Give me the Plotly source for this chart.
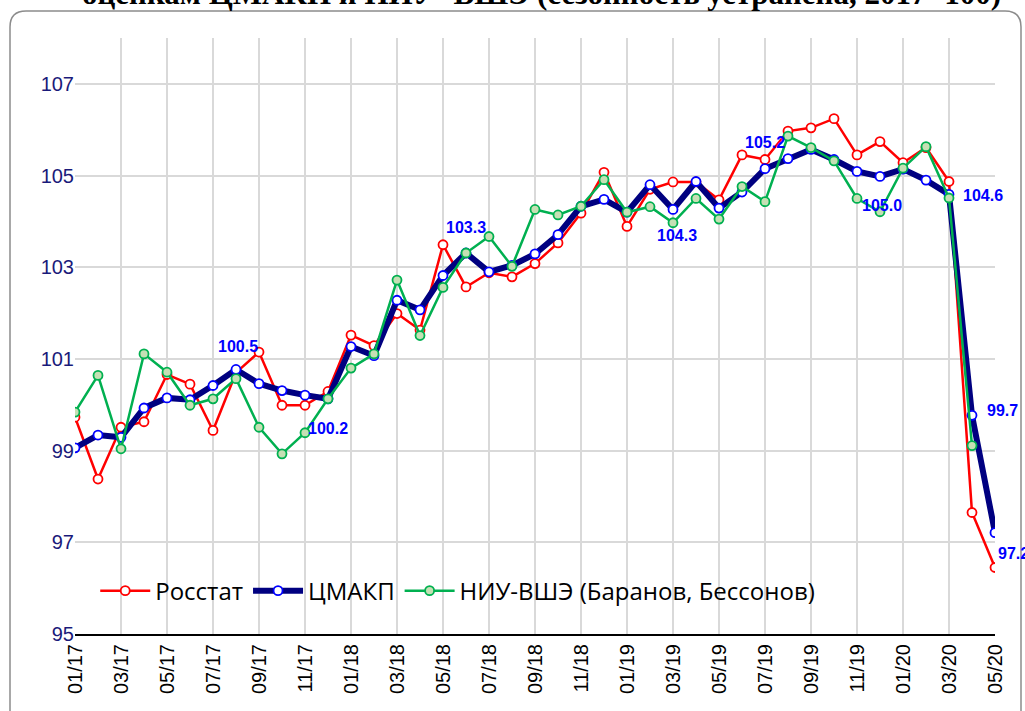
import plotly.graph_objects as go

tick_labels = ["01/17", "03/17", "05/17", "07/17", "09/17", "11/17", "01/18", "03/18",
               "05/18", "07/18", "09/18", "11/18", "01/19", "03/19", "05/19", "07/19",
               "09/19", "11/19", "01/20", "03/20", "05/20"]
months = list(range(41))

rosstat = [99.73, 98.38, 99.51, 99.63, 100.66, 100.45, 99.44, 100.70, 101.15, 99.99,
           99.99, 100.29, 101.52, 101.29, 101.99, 101.63, 103.49, 102.57, 102.88, 102.79,
           103.08, 103.53, 104.18, 105.07, 103.89, 104.70, 104.86, 104.86, 104.47, 105.45,
           105.35, 105.97, 106.04, 106.24, 105.45, 105.74, 105.28, 105.61, 104.87, 97.65,
           96.45]
cmakp = [99.06, 99.34, 99.29, 99.93, 100.15, 100.11, 100.42, 100.77, 100.46, 100.31,
         100.21, 100.13, 101.27, 101.07, 102.28, 102.07, 102.82, 103.31, 102.90, 103.04,
         103.29, 103.71, 104.33, 104.48, 104.20, 104.80, 104.26, 104.87, 104.29, 104.64,
         105.15, 105.37, 105.57, 105.35, 105.09, 104.98, 105.14, 104.90, 104.59, 99.77,
         97.21]
hse = [99.84, 100.64, 99.04, 101.11, 100.71, 99.99, 100.13, 100.57, 99.51, 98.93,
       99.39, 100.13, 100.80, 101.11, 102.72, 101.51, 102.56, 103.31, 103.67, 103.02,
       104.26, 104.14, 104.33, 104.91, 104.20, 104.32, 103.97, 104.50, 104.05, 104.76,
       104.43, 105.86, 105.61, 105.32, 104.50, 104.21, 105.16, 105.63, 104.51, 99.11,
       None]

label_idx = [7, 11, 17, 26, 30, 35, 38, 39, 40]
label_txt = ["100.5", "100.2", "103.3", "104.3", "105.2", "105.0", "104.6", "99.7", "97.2"]
label_shift = [(2, 23), (0, -30), (0, 26), (4, -26), (0, 26), (2, -29), (34, -1), (30, 5), (18, -21)]

title_text = "оценкам ЦМАКП и НИУ- ВШЭ (сезонность устранена, 2017=100)"

fig = go.Figure()
fig.add_trace(go.Scatter(
    x=months, y=rosstat, name="Росстат", mode="lines+markers",
    line=dict(color="#ff0000", width=2.5),
    marker=dict(symbol="circle", size=9, color="white", line=dict(color="#ff0000", width=1.8))))
fig.add_trace(go.Scatter(
    x=months, y=cmakp, name="ЦМАКП", mode="lines+markers",
    line=dict(color="#000080", width=6),
    marker=dict(symbol="circle", size=9, color="white", line=dict(color="#0000ff", width=1.8))))
fig.add_trace(go.Scatter(
    x=months, y=hse, name="НИУ-ВШЭ (Баранов, Бессонов)", mode="lines+markers",
    line=dict(color="#00b050", width=2.5),
    marker=dict(symbol="circle", size=9, color="#c5e0b4", line=dict(color="#00b050", width=1.8))))

L, R, T, B = 75, 30, 38, 77
W, H = 1025, 711
pw, ph = W - L - R, H - T - B

def px(x):
    return (x - L) / pw

def py(y):
    return (H - B - y) / ph

annotations = []
for i, t, (dx, dy) in zip(label_idx, label_txt, label_shift):
    annotations.append(dict(x=months[i], y=cmakp[i], text=t, showarrow=False,
                            xshift=dx, yshift=dy,
                            font=dict(family="Liberation Sans", size=16, color="#0000ff", weight="bold")))
annotations.append(dict(xref="paper", yref="paper", x=px(541), y=py(13), yanchor="bottom",
                        text=title_text, showarrow=False,
                        font=dict(family="Liberation Serif", size=31, color="black", weight="bold")))

# rounded border
l, r, t, b, rad = 10, 1021, 11, 760, 16
path = (f"M {px(l)},{py(b)} L {px(l)},{py(t + rad)} Q {px(l)},{py(t)} {px(l + rad)},{py(t)} "
        f"L {px(r - rad)},{py(t)} Q {px(r)},{py(t)} {px(r)},{py(t + rad)} L {px(r)},{py(b)}")

fig.update_layout(
    width=W, height=H, autosize=False,
    margin=dict(l=L, r=R, t=T, b=B),
    paper_bgcolor="white", plot_bgcolor="white",
    showlegend=True,
    legend=dict(orientation="h", x=0.022, y=0.072, xanchor="left", yanchor="middle",
                bgcolor="rgba(0,0,0,0)", font=dict(family="Open Sans", size=24, color="black"),
                itemwidth=50),
    xaxis=dict(range=[0, 40], tickvals=months[::2], ticktext=tick_labels, tickangle=-90,
               showgrid=True, gridcolor="#d9d9d9", gridwidth=1.5,
               showline=True, linecolor="black", linewidth=2, zeroline=False,
               tickfont=dict(family="Liberation Sans", size=20, color="black"), ticks=""),
    yaxis=dict(range=[95, 108], tickvals=[95, 97, 99, 101, 103, 105, 107],
               showgrid=True, gridcolor="#d9d9d9", gridwidth=1.5, zeroline=False,
               showline=False, ticks="",
               tickfont=dict(family="Liberation Sans", size=20, color="#1a1a7a")),
    annotations=annotations,
    shapes=[dict(type="path", xref="paper", yref="paper", path=path,
                 line=dict(color="#8c8c8c", width=1.5), layer="above")],
)

fig.write_html("out.html", config={"displayModeBar": False},
               post_script="document.body.style.margin='0';document.body.style.overflow='hidden';")
